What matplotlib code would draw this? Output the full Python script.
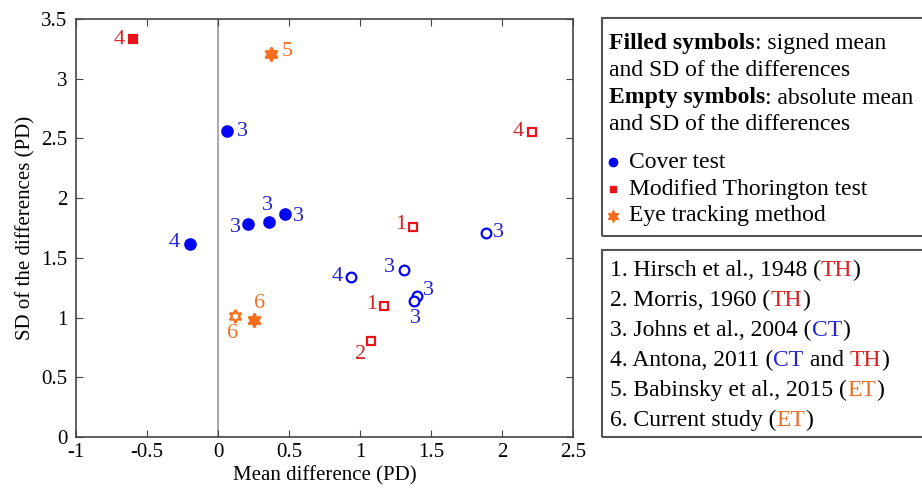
import matplotlib
matplotlib.use('Agg')
import matplotlib.pyplot as plt
from matplotlib.patches import Rectangle

plt.rcParams['font.family'] = 'Liberation Serif'
plt.rcParams['font.size'] = 15
plt.rcParams['axes.unicode_minus'] = False

# colour scheme
blue = '#0505f5'
red = '#e8141c'
orange = '#f46f1c'
blue_txt = '#2424d0'
red_txt = '#d42424'
orange_txt = '#ec7024'

# study points: mean difference, SD of differences, method, filled?, study number
mean_diff = [-0.60, 0.37, 0.06, 0.21, 0.36, 0.47, -0.20, 0.25, 0.12,
             1.37, 1.89, 1.31, 0.94, 1.17, 1.40, 1.38, 1.08, 2.21]
sd_diff = [3.33, 3.21, 2.56, 1.78, 1.80, 1.87, 1.62, 0.98, 1.01,
           1.76, 1.71, 1.40, 1.34, 1.10, 1.18, 1.14, 0.80, 2.55]
method = ['TH', 'ET', 'CT', 'CT', 'CT', 'CT', 'CT', 'ET', 'ET',
          'TH', 'CT', 'CT', 'CT', 'TH', 'CT', 'CT', 'TH', 'TH']
filled = [True, True, True, True, True, True, True, True, False,
          False, False, False, False, False, False, False, False, False]
study = ['4', '5', '3', '3', '3', '3', '4', '6', '6',
         '1', '3', '3', '4', '1', '3', '3', '2', '4']

# label offsets in pixels
label_off = [(-14, 0), (17, 2), (16, 0), (-12, -3), (-2, 17), (14, -3), (-15, 1), (6, 16), (-2, -17),
             (-12, 2), (12, 0), (-15, 2), (-14, 0), (-12, 1), (12, 6), (1, -18), (-11, -13), (-14, 1)]

styles = {'CT': dict(marker='o', color=blue, txt=blue_txt, ms=7.5),
          'TH': dict(marker='s', color=red, txt=red_txt, ms=6),
          'ET': dict(marker=(6, 1, 0), color=orange, txt=orange_txt, ms=10)}

fig = plt.figure(figsize=(9.22, 4.88), dpi=100)
ax = fig.add_axes([76/922, 1-437/488, 497/922, 418/488])

ax.axvline(0, color='#999999', lw=1.2, zorder=1)

for x, y, m, f, s, off in zip(mean_diff, sd_diff, method, filled, study, label_off):
    st = styles[m]
    ax.plot(x, y, marker=st['marker'], ms=st['ms'] if f else st['ms'] - 0.5,
            mfc=st['color'] if f else 'white', mec=st['color'], mew=1.6,
            linestyle='none', zorder=3)
    ax.annotate(s, (x, y), xytext=off, textcoords='offset pixels',
                ha='center', va='center', color=st['txt'], fontsize=16)

ax.set_xlim(-1, 2.5)
ax.set_ylim(0, 3.5)
ax.set_xticks([-1, -0.5, 0, 0.5, 1, 1.5, 2, 2.5])
ax.set_yticks([0, 0.5, 1, 1.5, 2, 2.5, 3, 3.5])
ax.set_xticklabels(['-1', '-0.5', '0', '0.5', '1', '1.5', '2', '2.5'])
ax.set_yticklabels(['0', '0.5', '1', '1.5', '2', '2.5', '3', '3.5'])
ax.tick_params(direction='in', top=True, right=True, length=5, color='#444444', labelsize=15)
ax.tick_params(axis='x', pad=4)
ax.tick_params(axis='y', pad=6)
for sp in ax.spines.values():
    sp.set_color('#444444')
    sp.set_linewidth(1.2)
ax.set_xlabel('Mean difference (PD)', fontsize=15, labelpad=3)
ax.set_ylabel('SD of the differences (PD)', fontsize=15, labelpad=4)

# boxes on the right
W, H = 922, 488
for top, bot in [(18, 236), (250, 437)]:
    fig.patches.append(Rectangle((602/W, 1-bot/H), 330/W, (bot-top)/H, transform=fig.transFigure,
                                 fill=False, ec='#555555', lw=1.5, clip_on=False))

fig.canvas.draw()
renderer = fig.canvas.get_renderer()
box_fs = 17


def line_segments(x_px, y_px, segs):
    x = x_px / W
    for txt, col, wt in segs:
        t = fig.text(x, 1 - y_px / H, txt, color=col, weight=wt, fontsize=box_fs, va='center', ha='left')
        bb = t.get_window_extent(renderer)
        x += bb.width / W


line_segments(609, 44, [('Filled symbols', 'black', 'bold'), (': signed mean', 'black', 'normal')])
line_segments(609, 71, [('and SD of the differences', 'black', 'normal')])
line_segments(609, 98, [('Empty symbols', 'black', 'bold'), (': absolute mean', 'black', 'normal')])
line_segments(609, 125, [('and SD of the differences', 'black', 'normal')])

legend_items = [('Cover test', 'CT'), ('Modified Thorington test', 'TH'), ('Eye tracking method', 'ET')]
for i, (name, m) in enumerate(legend_items):
    yy = 162 + 27 * i
    st = styles[m]
    fig.lines.append(plt.Line2D([613/W], [1 - yy/H], marker=st['marker'], ms=st['ms'] - 1.5,
                                color=st['color'], transform=fig.transFigure, linestyle='none'))
    line_segments(629, yy, [(name, 'black', 'normal')])

refs = [[('1. Hirsch et al., 1948 (', 'black'), ('TH', red_txt), (')', 'black')],
        [('2. Morris, 1960 (', 'black'), ('TH', red_txt), (')', 'black')],
        [('3. Johns et al., 2004 (', 'black'), ('CT', blue_txt), (')', 'black')],
        [('4. Antona, 2011 (', 'black'), ('CT', blue_txt), (' and ', 'black'), ('TH', red_txt), (')', 'black')],
        [('5. Babinsky et al., 2015 (', 'black'), ('ET', orange_txt), (')', 'black')],
        [('6. Current study (', 'black'), ('ET', orange_txt), (')', 'black')]]
for i, segs in enumerate(refs):
    line_segments(610, 270 + 30 * i, [(t, c, 'normal') for t, c in segs])

fig.savefig('out.png', dpi=100)
